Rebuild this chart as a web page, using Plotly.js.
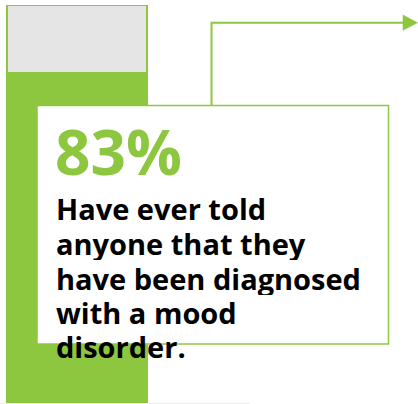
<!DOCTYPE html>
<html>
<head>
<meta charset="utf-8">
<script src="https://cdn.plot.ly/plotly-3.0.1.min.js"></script>
<style>html,body{margin:0;padding:0;background:#fff;}#chart{width:418px;height:404px;}</style>
</head>
<body>
<div id="chart"></div>
<script>
// ---- data ----
const categories = ["Ever told"];
const seriesNames = ["Told", "Not told"];
const toldValues = [83];
const notToldValues = [17];
const headlineLabels = ["83%"];
const bodyLines = ["Have ever told", "anyone that they", "have been diagnosed", "with a mood", "disorder."];

// ---- layout helpers ----
const W = 418, H = 404, MT = 5, MB = 1;
const GREEN = "#8dc63f", GRAY = "#e5e5e5";
const px = x => x / W;
const py = y => (H - MB - y) / (H - MT - MB);

const traces = [
  {type: "bar", x: categories, y: toldValues, name: seriesNames[0], width: 1,
   marker: {color: GREEN, line: {color: GREEN, width: 2}}, hoverinfo: "none"},
  {type: "bar", x: categories, y: notToldValues, name: seriesNames[1], width: 1,
   marker: {color: GRAY, line: {color: GREEN, width: 2}}, hoverinfo: "none"}
];

const shapes = [
  {type: "line", xref: "paper", yref: "paper", x0: 0, x1: px(250), y0: py(403.5), y1: py(403.5),
   line: {color: "#eeeeee", width: 1}, layer: "below"},
  {type: "rect", xref: "paper", yref: "paper", x0: px(37), x1: px(388.5), y0: py(105.5), y1: py(344),
   fillcolor: "#ffffff", line: {color: GREEN, width: 1.5}, layer: "above"},
  {type: "path", xref: "paper", yref: "paper",
   path: `M ${px(211.5)} ${py(105.5)} L ${px(211.5)} ${py(22.7)} L ${px(404)} ${py(22.7)}`,
   line: {color: GREEN, width: 2}, layer: "above"},
  {type: "path", xref: "paper", yref: "paper",
   path: `M ${px(403)} ${py(15)} L ${px(417.5)} ${py(22.7)} L ${px(403)} ${py(30.3)} Z`,
   fillcolor: GREEN, line: {color: GREEN, width: 0.5}, layer: "above"}
];

const annotations = [
  {xref: "paper", yref: "paper", x: px(54), y: py(151), xanchor: "left", yanchor: "middle",
   text: headlineLabels[0], showarrow: false, borderpad: 0,
   font: {family: "Open Sans", size: 62, color: GREEN, weight: 700}}
];
const baselines = [220, 255, 290, 324, 358];
bodyLines.forEach((t, i) => {
  annotations.push({xref: "paper", yref: "paper", x: px(54.5), y: py(baselines[i] - 11.25),
    xanchor: "left", yanchor: "middle", text: t, showarrow: false, borderpad: 0,
    height: 33, valign: "middle",
    font: {family: "Open Sans", size: 29, color: "#000000", weight: 700}});
});

const layout = {
  width: W, height: H, barmode: "stack", showlegend: false,
  margin: {l: 0, r: 0, t: MT, b: MB, pad: 0},
  paper_bgcolor: "#ffffff", plot_bgcolor: "#ffffff",
  xaxis: {range: [-0.55, -0.55 + W / 140], visible: false, fixedrange: true},
  yaxis: {range: [0, 100], visible: false, fixedrange: true},
  shapes: shapes, annotations: annotations
};

Plotly.newPlot("chart", traces, layout, {displayModeBar: false, staticPlot: true});
</script>
</body>
</html>
